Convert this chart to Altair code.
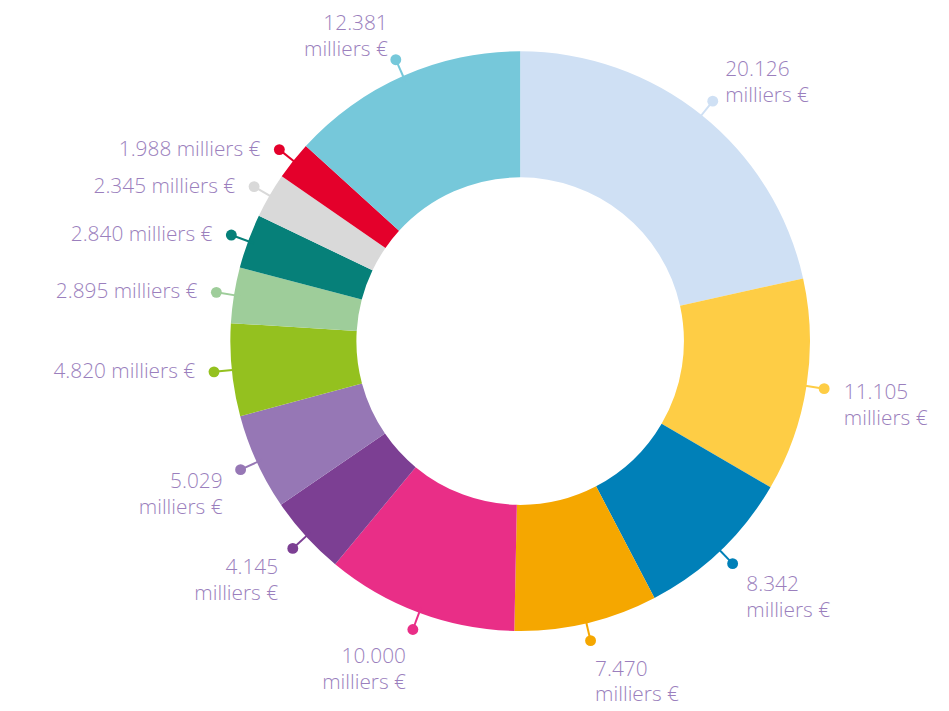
import altair as alt
import pandas as pd

# Slices, clockwise from 12 o'clock (values in milliers €)
values = [20126, 11105, 8342, 7470, 10000, 4145, 5029, 4820, 2895, 2840, 2345, 1988, 12381]
labels = [
    "20.126\nmilliers €",
    "11.105\nmilliers €",
    "8.342\nmilliers €",
    "7.470\nmilliers €",
    "10.000\nmilliers €",
    "4.145\nmilliers €",
    "5.029\nmilliers €",
    "4.820 milliers €",
    "2.895 milliers €",
    "2.840 milliers €",
    "2.345 milliers €",
    "1.988 milliers €",
    "12.381\nmilliers €",
]
colors = [
    "#cfe0f4", "#fecd45", "#0080b8", "#f5a700", "#e92e87", "#7c3f93",
    "#9677b5", "#94c11f", "#9ecd9a", "#068079", "#d9d9d9", "#e4002b", "#76c8da",
]

df = pd.DataFrame({"idx": list(range(len(values))), "value": values, "label": labels})

W, H = 940, 702
CX, CY = 516, 333
R_IN, R_OUT = 165, 292
TEXT_COLOR = "#9b7fbd"

xs = alt.Scale(domain=[-CX, W - CX], nice=False, zero=False)
ys = alt.Scale(domain=[-(H - CY), CY], nice=False, zero=False)
color = alt.Color("idx:N", scale=alt.Scale(domain=list(range(len(values))), range=colors), legend=None)

donut = alt.Chart(df).mark_arc(innerRadius=R_IN, outerRadius=R_OUT).encode(
    theta=alt.Theta("value:Q", stack=True),
    order=alt.Order("idx:Q"),
    color=color,
    x=alt.XDatum(0, scale=xs, axis=None),
    y=alt.YDatum(0, scale=ys, axis=None),
)

geo = (
    alt.Chart(df)
    .transform_window(cum="sum(value)", sort=[alt.SortField("idx")], frame=[None, 0])
    .transform_joinaggregate(total="sum(value)")
    .transform_calculate(mid="2*PI*(datum.cum - datum.value/2)/datum.total")
    .transform_calculate(sn="sin(datum.mid)", cs="cos(datum.mid)")
    .transform_calculate(
        lx1=f"{R_OUT - 6}*datum.sn", ly1=f"{R_OUT - 6}*datum.cs",
        px="310*datum.sn", py="310*datum.cs",
        two="indexof(datum.label, '\\n') >= 0",
    )
    .transform_calculate(
        tx="datum.two ? 330*datum.sn : 310*datum.sn + (datum.sn > 0 ? 19 : -19)",
        ty="datum.two ? 340*datum.cs + (datum.cs > 0 ? 8 : 0) : 310*datum.cs",
    )
)

rule = geo.mark_rule(strokeWidth=2).encode(
    x=alt.X("lx1:Q", scale=xs, axis=None), y=alt.Y("ly1:Q", scale=ys, axis=None),
    x2="px:Q", y2="py:Q", color=color,
)
dots = geo.mark_circle(size=120, opacity=1).encode(
    x=alt.X("px:Q", scale=xs, axis=None), y=alt.Y("py:Q", scale=ys, axis=None), color=color,
)
text_style = dict(baseline="middle", font="Open Sans", fontSize=21, fontWeight=300,
                  lineBreak="\n", lineHeight=26, color=TEXT_COLOR)
text_r = geo.transform_filter("datum.sn > 0").mark_text(align="left", **text_style).encode(
    x=alt.X("tx:Q", scale=xs, axis=None), y=alt.Y("ty:Q", scale=ys, axis=None), text="label:N",
)
text_l = geo.transform_filter("datum.sn <= 0").mark_text(align="right", **text_style).encode(
    x=alt.X("tx:Q", scale=xs, axis=None), y=alt.Y("ty:Q", scale=ys, axis=None), text="label:N",
)

chart = (
    alt.layer(donut, rule, dots, text_r, text_l)
    .properties(width=W, height=H, autosize=alt.AutoSizeParams(type="none"), padding=0)
    .configure_view(stroke=None)
)

chart.save("out.html", embed_options={"renderer": "svg", "actions": False})
